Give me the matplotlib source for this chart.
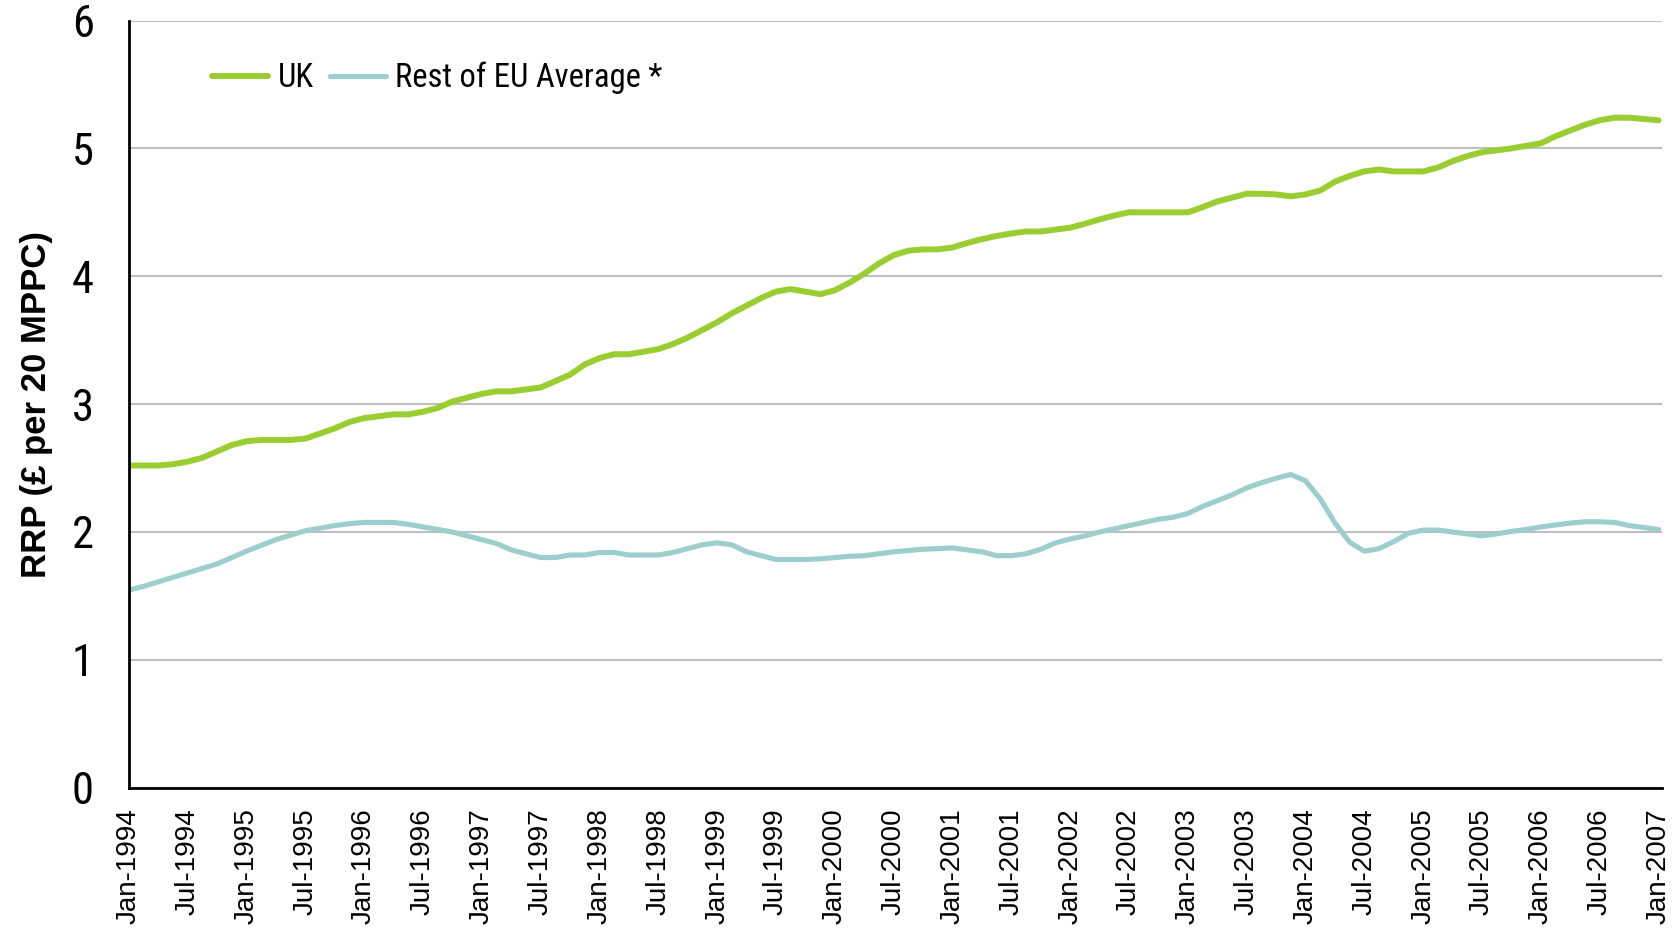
import matplotlib
matplotlib.use("Agg")
import matplotlib.pyplot as plt
from matplotlib import font_manager
import numpy as np

# data: one point every 1.5 months, Jan-1994 .. Jan-2007
uk = [2.52, 2.52, 2.52, 2.53, 2.55, 2.58, 2.63, 2.68, 2.71, 2.72,
      2.72, 2.72, 2.73, 2.77, 2.81, 2.86, 2.89, 2.905, 2.92, 2.92,
      2.94, 2.97, 3.02, 3.05, 3.08, 3.10, 3.10, 3.115, 3.13, 3.18,
      3.23, 3.31, 3.36, 3.39, 3.39, 3.41, 3.43, 3.47, 3.52, 3.58,
      3.64, 3.71, 3.77, 3.83, 3.88, 3.90, 3.88, 3.86, 3.89, 3.95,
      4.02, 4.10, 4.165, 4.20, 4.21, 4.21, 4.225, 4.26, 4.29, 4.315,
      4.335, 4.35, 4.35, 4.365, 4.38, 4.41, 4.445, 4.475, 4.50, 4.50,
      4.50, 4.50, 4.50, 4.54, 4.585, 4.615, 4.645, 4.645, 4.64, 4.625,
      4.64, 4.67, 4.74, 4.785, 4.82, 4.835, 4.82, 4.82, 4.82, 4.85,
      4.90, 4.94, 4.97, 4.985, 5.00, 5.02, 5.04, 5.095, 5.14, 5.185,
      5.22, 5.24, 5.24, 5.23, 5.22]

eu = [1.545, 1.575, 1.61, 1.645, 1.68, 1.715, 1.75, 1.80, 1.85, 1.895,
      1.94, 1.975, 2.01, 2.03, 2.05, 2.065, 2.075, 2.075, 2.075, 2.06,
      2.04, 2.02, 2.00, 1.97, 1.94, 1.91, 1.86, 1.83, 1.80, 1.80,
      1.82, 1.82, 1.84, 1.84, 1.82, 1.82, 1.82, 1.84, 1.87, 1.90,
      1.915, 1.90, 1.845, 1.815, 1.785, 1.785, 1.785, 1.79, 1.80, 1.81,
      1.815, 1.83, 1.845, 1.855, 1.865, 1.87, 1.875, 1.86, 1.845, 1.815,
      1.815, 1.83, 1.865, 1.915, 1.945, 1.97, 2.00, 2.025, 2.05, 2.075,
      2.10, 2.115, 2.145, 2.20, 2.245, 2.29, 2.345, 2.385, 2.42, 2.45,
      2.40, 2.26, 2.07, 1.92, 1.85, 1.87, 1.925, 1.99, 2.015, 2.015,
      2.00, 1.985, 1.97, 1.985, 2.005, 2.02, 2.04, 2.055, 2.07, 2.08,
      2.08, 2.075, 2.05, 2.035, 2.02]

years = list(range(1994, 2008))
tick_labels = []
for yr in years:
    tick_labels.append('Jan-%d' % yr)
    if yr < 2007:
        tick_labels.append('Jul-%d' % yr)


# look for a narrow / condensed regular face for the numbers and legend
def pick_narrow():
    fl = font_manager.fontManager.ttflist
    prefs = ['Liberation Sans Narrow', 'Roboto Condensed', 'Open Sans Condensed',
             'Noto Sans Condensed', 'DejaVu Sans Condensed']
    for p in prefs:
        for f in fl:
            if f.name == p and f.style == 'normal' and f.weight in (400, 'normal', 'regular'):
                return font_manager.FontProperties(fname=f.fname)
    for f in fl:
        if f.stretch in ('condensed', 'semi-condensed') and f.style == 'normal' \
                and f.weight in (400, 'normal', 'regular'):
            return font_manager.FontProperties(fname=f.fname)
    return font_manager.FontProperties(family='DejaVu Sans')


narrow = pick_narrow()

x = np.arange(len(uk))

fig = plt.figure(figsize=(16.8, 9.33), dpi=100)
ax = fig.add_axes([0.0766, 0.1557, 0.9124, 0.8223])

ax.plot(x, uk, color='#9acd32', lw=4.3, label='UK', solid_capstyle='round')
ax.plot(x, eu, color='#9ccece', lw=3.7, label='Rest of EU Average *', solid_capstyle='round')

ax.set_xlim(0, 104.2)
ax.set_ylim(0, 6)
ax.set_yticks(range(0, 7))
ax.set_yticklabels([str(v) for v in range(0, 7)], fontproperties=narrow, fontsize=32)
ax.set_xticks(range(0, 105, 4))
ax.set_xticklabels(tick_labels, rotation=90, fontsize=20, family='Liberation Sans')
ax.tick_params(axis='both', length=0)
ax.tick_params(axis='y', pad=25)
ax.tick_params(axis='x', pad=15)

ax.grid(axis='y', color='#bfbfbf', lw=1.5)
ax.set_axisbelow(True)
for s in ['top', 'right']:
    ax.spines[s].set_visible(False)
for s in ['left', 'bottom']:
    ax.spines[s].set_linewidth(2)
    ax.spines[s].set_color('black')

ax.set_ylabel('RRP (£ per 20 MPPC)', fontsize=25, fontweight='bold',
              family='Liberation Sans', labelpad=14)

leg_font = narrow.copy()
leg_font.set_size(23.5)
leg = ax.legend(loc='center left', bbox_to_anchor=(0.0355, 0.925), ncol=2, frameon=False,
                prop=leg_font, handlelength=1.7,
                handletextpad=0.3, columnspacing=0.5)

fig.savefig('out.png', dpi=100)
